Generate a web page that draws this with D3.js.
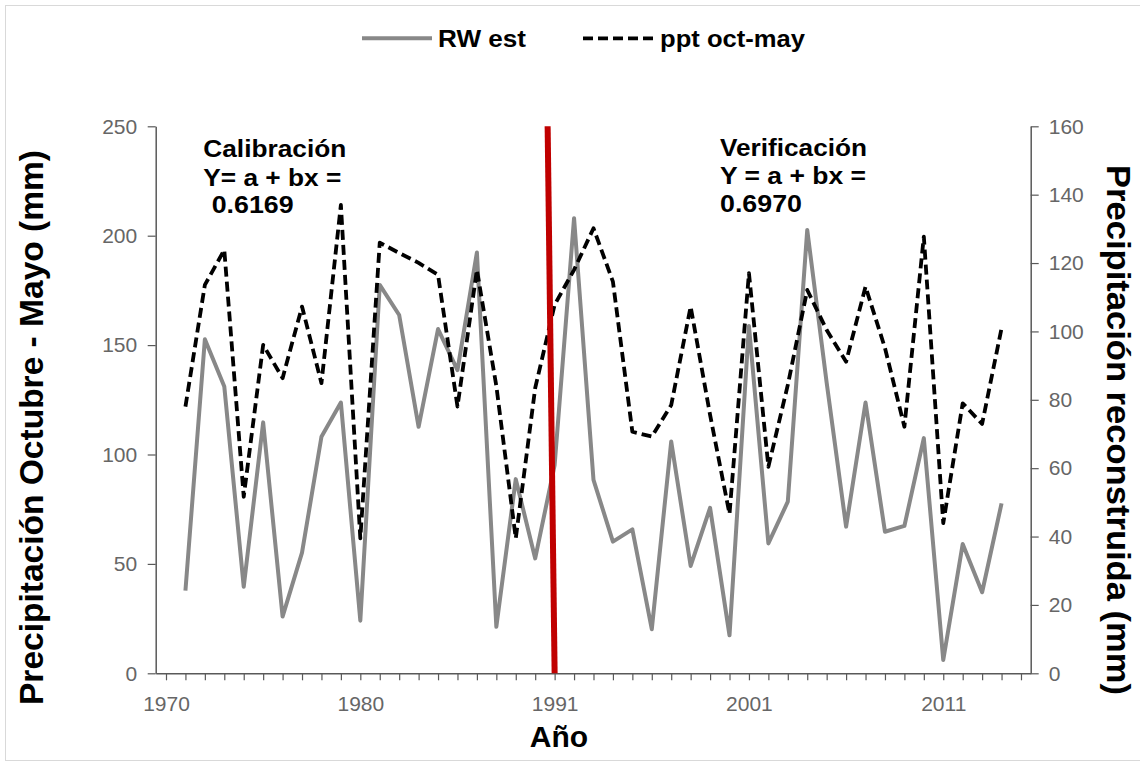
<!DOCTYPE html>
<html>
<head>
<meta charset="utf-8">
<script src="https://cdn.jsdelivr.net/npm/d3@7/dist/d3.min.js"></script>
<style>
  html, body { margin: 0; padding: 0; background: #fff; }
  svg { display: block; }
</style>
</head>
<body>
<svg id="chart" width="1140" height="767"></svg>
<script>
// Category axis: one slot per year (labels every tenth category)
const categories = [
  "1970","1971","1972","1973","1974","1975","1976","1977","1978","1979",
  "1980","1981","1982","1983","1984","1985","1986","1987","1988","1989",
  "1991","1992","1993","1994","1995","1996","1997","1998","1999","2000",
  "2001","2002","2003","2004","2005","2006","2007","2008","2009","2010",
  "2011","2012","2013","2014","2015"
];

// Reconstructed precipitation from ring width (secondary axis, mm)
const rwEst = [
  null, 24.2, 97.7, 83.9, 25.3, 73.4, 16.6, 35.3, 69.2, 79.2,
  15.4, 113.6, 104.8, 72.1, 100.7, 88.7, 123.1, 13.6, 56.8, 33.6,
  60.9, 133.1, 56.6, 38.5, 42.1, 12.9, 67.8, 31.4, 48.4, 11.1,
  101.6, 38.0, 50.2, 129.7, 85.0, 42.9, 79.2, 41.4, 43.1, 68.8,
  3.9, 37.8, 23.7, 49.7, null
];

// Observed October-May precipitation (primary axis, mm)
const pptOctMay = [
  null, 121.9, 177.5, 193.5, 80.7, 150.1, 134.9, 167.6, 132.6, 214.1,
  61.7, 196.8, 192.1, 187.6, 182.1, 121.9, 184.4, 131.3, 61.7, 130.4,
  168.4, 184.4, 203.4, 179.0, 110.4, 108.2, 122.6, 167.6, 118.1, 72.8,
  182.9, 94.4, 131.8, 175.2, 156.9, 142.4, 176.7, 148.7, 112.7, 199.6,
  68.6, 123.4, 114.0, 157.7, null
];

const leftTicks = [0, 50, 100, 150, 200, 250];
const rightTicks = [0, 20, 40, 60, 80, 100, 120, 140, 160];
const labelEvery = 10;

const seriesNames = ["RW est", "ppt oct-may"];
const axisTitles = {
  x: "Año",
  left: "Precipitación Octubre - Mayo (mm)",
  right: "Precipitación reconstruida (mm)"
};
const periodNotes = [
  { lines: ["Calibración", "Y= a + bx =", " 0.6169"] },
  { lines: ["Verificación", "Y = a + bx =", "0.6970"] }
];
// First year of the verification period
const splitCategory = "1991";

const svg = d3.select("#chart");
const font = "'Liberation Sans', Arial, sans-serif";
const axisColor = "#595959";
const tickTextColor = "#666666";

// Frame
svg.append("rect")
  .attr("x", 5.5).attr("y", 5.5)
  .attr("width", 1140).attr("height", 755)
  .attr("fill", "#fff").attr("stroke", "#d9d9d9").attr("stroke-width", 1);

const plot = { left: 155.7, right: 1030.7, top: 126.3, bottom: 673.3 };

const x = d3.scaleLinear()
  .domain([-0.53, categories.length - 0.5])
  .range([plot.left, plot.right]);
const yLeft = d3.scaleLinear().domain([0, 250]).range([plot.bottom, plot.top]);
const yRight = d3.scaleLinear().domain([0, 160]).range([plot.bottom, plot.top]);

function styleAxis(g) {
  g.select(".domain").attr("stroke", axisColor).attr("stroke-width", 1.5);
  g.selectAll(".tick line").attr("stroke", axisColor).attr("stroke-width", 1.2);
  g.selectAll(".tick text")
    .attr("fill", tickTextColor)
    .style("font-family", font)
    .style("font-size", "21px");
}

// X axis: a tick per category, labels every tenth
const xAxis = d3.axisBottom(x)
  .tickValues(d3.range(categories.length))
  .tickSize(7).tickSizeOuter(0).tickPadding(15.5)
  .tickFormat(i => i % labelEvery === 0 ? categories[i] : "");
svg.append("g")
  .attr("transform", `translate(0,${plot.bottom})`)
  .call(xAxis).call(styleAxis);

// Left axis
svg.append("g")
  .attr("transform", `translate(${plot.left},0)`)
  .call(d3.axisLeft(yLeft).tickValues(leftTicks).tickSize(8).tickSizeOuter(0).tickPadding(10.5))
  .call(styleAxis);

// Right axis
svg.append("g")
  .attr("transform", `translate(${plot.right},0)`)
  .call(d3.axisRight(yRight).tickValues(rightTicks).tickSize(8).tickSizeOuter(0).tickPadding(10))
  .call(styleAxis);

// Series lines
const idx = d3.range(categories.length);
const rwLine = d3.line()
  .defined(i => rwEst[i] != null)
  .x(i => x(i)).y(i => yRight(rwEst[i]));
const pptLine = d3.line()
  .defined(i => pptOctMay[i] != null)
  .x(i => x(i)).y(i => yLeft(pptOctMay[i]));

svg.append("path")
  .attr("d", rwLine(idx))
  .attr("fill", "none").attr("stroke", "#888888")
  .attr("stroke-width", 4).attr("stroke-linejoin", "round");

svg.append("path")
  .attr("d", pptLine(idx))
  .attr("fill", "none").attr("stroke", "#000")
  .attr("stroke-width", 3.8).attr("stroke-dasharray", "10,5")
  .attr("stroke-linejoin", "round");

// Calibration / verification divider
const splitIdx = categories.indexOf(splitCategory);
svg.append("line")
  .attr("x1", x(splitIdx - 0.36)).attr("y1", yLeft(250))
  .attr("x2", x(splitIdx)).attr("y2", yLeft(0))
  .attr("stroke", "#c00000").attr("stroke-width", 6);

// Period annotations
const notePos = [
  [{ x: 203.3, y: 156.7, w: 143 }, { x: 203.3, y: 186, w: 138 }, { x: 211.7, y: 213.3, w: 82 }],
  [{ x: 720, y: 155.7, w: 147 }, { x: 720, y: 184, w: 146 }, { x: 720, y: 211.7, w: 82 }]
];
periodNotes.forEach((note, n) => {
  note.lines.forEach((line, k) => {
    const p = notePos[n][k];
    svg.append("text")
      .attr("x", p.x).attr("y", p.y)
      .attr("textLength", p.w).attr("lengthAdjust", "spacingAndGlyphs")
      .style("font-family", font).style("font-weight", "bold").style("font-size", "23px")
      .attr("fill", "#000")
      .text(line.trim());
  });
});

// Axis titles
svg.append("text")
  .attr("transform", "translate(43,427.5) rotate(-90)")
  .attr("text-anchor", "middle")
  .attr("textLength", 555).attr("lengthAdjust", "spacingAndGlyphs")
  .style("font-family", font).style("font-weight", "bold").style("font-size", "33px")
  .text(axisTitles.left);

svg.append("text")
  .attr("transform", "translate(1107,430) rotate(90)")
  .attr("text-anchor", "middle")
  .attr("textLength", 530).attr("lengthAdjust", "spacingAndGlyphs")
  .style("font-family", font).style("font-weight", "bold").style("font-size", "33px")
  .text(axisTitles.right);

svg.append("text")
  .attr("x", 559).attr("y", 747)
  .attr("text-anchor", "middle")
  .style("font-family", font).style("font-weight", "bold").style("font-size", "30px")
  .text(axisTitles.x);

// Legend
const legend = svg.append("g");
const legendItems = [
  { name: seriesNames[0], x0: 362, x1: 432, tx: 438, tw: 88, stroke: "#888888", w: 4, dash: null },
  { name: seriesNames[1], x0: 583, x1: 653, tx: 660, tw: 145, stroke: "#000", w: 3.8, dash: "10,5" }
];
legendItems.forEach(it => {
  legend.append("line")
    .attr("x1", it.x0).attr("x2", it.x1).attr("y1", 38.3).attr("y2", 38.3)
    .attr("stroke", it.stroke).attr("stroke-width", it.w)
    .attr("stroke-dasharray", it.dash);
  legend.append("text")
    .attr("x", it.tx).attr("y", 46.7)
    .attr("textLength", it.tw).attr("lengthAdjust", "spacingAndGlyphs")
    .style("font-family", font).style("font-weight", "bold").style("font-size", "23px")
    .text(it.name);
});
</script>
</body>
</html>
